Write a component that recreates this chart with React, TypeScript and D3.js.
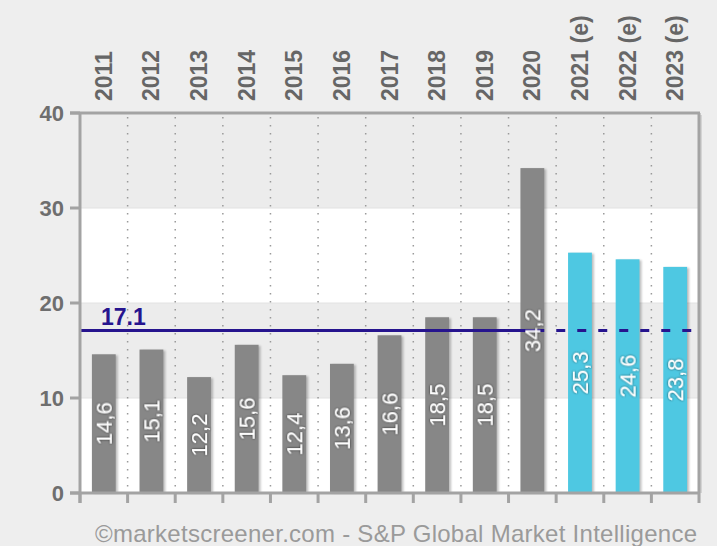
import React from "react";
import * as d3 from "d3";

const years = [
  "2011", "2012", "2013", "2014", "2015", "2016", "2017",
  "2018", "2019", "2020", "2021 (e)", "2022 (e)", "2023 (e)",
];
const values = [14.6, 15.1, 12.2, 15.6, 12.4, 13.6, 16.6, 18.5, 18.5, 34.2, 25.3, 24.6, 23.8];
const yTicks = [0, 10, 20, 30, 40];
const average = 17.1;
const credit = "©marketscreener.com - S&P Global Market Intelligence";

const W = 717;
const H = 546;
const FONT = "'Liberation Sans', Arial, sans-serif";

export default function App() {
  const left = 80;
  const right = 699;
  const top = 113;
  const bottom = 493;

  const x = d3.scaleBand<string>().domain(years).range([left, right]);
  const y = d3.scaleLinear().domain([0, 40]).range([bottom, top]);
  const bw = x.bandwidth() * 0.5;

  const bands = d3.pairs(yTicks); // [0,10],[10,20],...
  const lastActual = years.findIndex((d) => d.includes("(e)")) - 1;
  const splitX = (x(years[lastActual]) || 0) + x.bandwidth() / 2 + bw / 2;
  const avgY = y(average);

  return (
    <svg
      width={W}
      height={H}
      style={{ position: "absolute", left: 0, top: 0, fontFamily: FONT }}
    >
      <defs>
        <filter id="glow" x="-30%" y="-30%" width="160%" height="160%">
          <feDropShadow dx="0" dy="0" stdDeviation="1.1" floodColor="#000" floodOpacity="0.75" />
        </filter>
        <filter id="barShadow" x="-20%" y="-5%" width="150%" height="110%">
          <feGaussianBlur stdDeviation="1.2" />
        </filter>
      </defs>
      <rect width={W} height={H} fill="#eeeeee" />

      {/* alternating grid bands */}
      {bands.map(([a, b], i) => (
        <rect
          key={a}
          x={left}
          y={y(b)}
          width={right - left}
          height={y(a) - y(b)}
          fill={i % 2 === 0 ? "#ffffff" : "#ececec"}
        />
      ))}
      {yTicks.slice(1, -1).map((t) => (
        <line key={t} x1={left} x2={right} y1={y(t)} y2={y(t)} stroke="#e2e2e2" strokeWidth={1} />
      ))}

      {/* dotted vertical separators */}
      {years.slice(1).map((d) => (
        <line
          key={d}
          x1={(x(d) || 0)}
          x2={(x(d) || 0)}
          y1={top + 4}
          y2={bottom}
          stroke="#9a9a9a"
          strokeWidth={1.5}
          strokeDasharray="1.5,6.5"
        />
      ))}

      {/* bars */}
      {years.map((d, i) => {
        const cx = (x(d) || 0) + x.bandwidth() / 2;
        const est = d.includes("(e)");
        return (
          <g key={d}>
            <rect
              x={cx - bw / 2 + 2}
              y={y(values[i]) + 1}
              width={bw}
              height={bottom - y(values[i]) - 1}
              fill="#000"
              opacity={0.25}
              filter="url(#barShadow)"
            />
            <rect
              x={cx - bw / 2}
              y={y(values[i])}
              width={bw}
              height={bottom - y(values[i])}
              fill={est ? "#4ec8e2" : "#878787"}
            />
          </g>
        );
      })}

      {/* average line */}
      <line x1={left} x2={splitX} y1={avgY} y2={avgY} stroke="#26148e" strokeWidth={3} />
      <line
        x1={splitX}
        x2={right}
        y1={avgY}
        y2={avgY}
        stroke="#26148e"
        strokeWidth={3}
        strokeDasharray="9,12"
        strokeDashoffset={-12}
      />
      <text x={101} y={avgY - 6} fill="#26148e" fontSize={23} fontWeight="bold">
        {average.toFixed(1)}
      </text>

      {/* value labels */}
      {years.map((d, i) => {
        const cx = (x(d) || 0) + x.bandwidth() / 2;
        const cy = (y(values[i]) + bottom) / 2;
        return (
          <text
            key={d}
            transform={`translate(${cx},${cy}) rotate(-90)`}
            textAnchor="middle"
            dominantBaseline="central"
            fill="#ffffff"
            fontSize={22}
            filter="url(#glow)"
          >
            {values[i].toFixed(1).replace(".", ",")}
          </text>
        );
      })}

      {/* frame */}
      <line x1={right + 2} x2={right + 2} y1={top + 2} y2={bottom} stroke="#d4d4d4" strokeWidth={2} />
      <line x1={left - 10} x2={right + 1} y1={top} y2={top} stroke="#a3a3a3" strokeWidth={3} />
      <line x1={right} x2={right} y1={top} y2={bottom} stroke="#a3a3a3" strokeWidth={3} />
      <line x1={left} x2={left} y1={top} y2={bottom + 10} stroke="#a3a3a3" strokeWidth={3} />
      <line x1={left - 10} x2={right + 1} y1={bottom} y2={bottom} stroke="#a3a3a3" strokeWidth={3} />

      {/* y ticks */}
      {yTicks.map((t) => (
        <g key={t}>
          <line x1={left - 10} x2={left} y1={y(t)} y2={y(t)} stroke="#a3a3a3" strokeWidth={3} />
          <text
            x={left - 16}
            y={y(t)}
            textAnchor="end"
            dominantBaseline="central"
            fill="#6e6e6e"
            fontSize={22}
            fontWeight="bold"
          >
            {t}
          </text>
        </g>
      ))}

      {/* x ticks */}
      {years.map((d) => (
        <line
          key={d}
          x1={x(d) || 0}
          x2={x(d) || 0}
          y1={bottom}
          y2={bottom + 10}
          stroke="#a3a3a3"
          strokeWidth={3}
        />
      ))}
      <line x1={right} x2={right} y1={bottom} y2={bottom + 10} stroke="#a3a3a3" strokeWidth={3} />

      {/* category labels on top */}
      {years.map((d) => {
        const cx = (x(d) || 0) + x.bandwidth() / 2;
        return (
          <text
            key={d}
            transform={`translate(${cx},101) rotate(-90)`}
            textAnchor="start"
            dominantBaseline="central"
            fill="#666666"
            fontSize={23}
            fontWeight="bold"
          >
            {d}
          </text>
        );
      })}

      <text x={95} y={542} fill="#9a9a9a" fontSize={24} textLength={602} lengthAdjust="spacing">
        {credit}
      </text>
    </svg>
  );
}
